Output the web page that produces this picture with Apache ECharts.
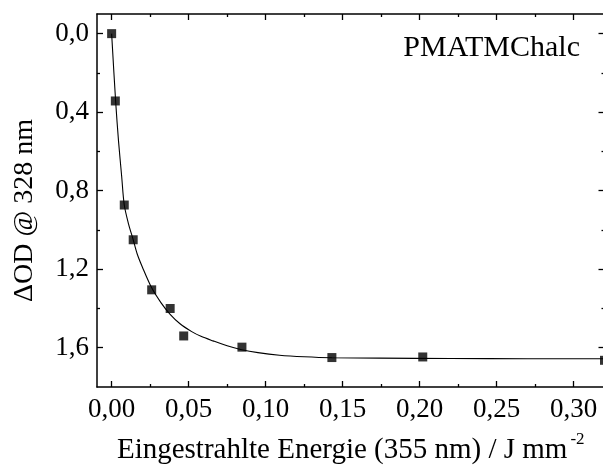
<!DOCTYPE html>
<html>
<head>
<meta charset="utf-8">
<script src="https://cdn.jsdelivr.net/npm/echarts@6/dist/echarts.min.js"></script>
<style>
  html, body { margin: 0; padding: 0; background: #fff; overflow: hidden; }
  #chart { width: 612px; height: 470px; }
</style>
</head>
<body>
<div id="chart"></div>
<script>
// Measured points: irradiated energy (J/mm²) vs. ΔOD at 328 nm
const energy = [0, 0.0024, 0.0082, 0.014, 0.026, 0.038, 0.0468, 0.0846, 0.143, 0.202, 0.32];
const deltaOD = [0, 0.343, 0.873, 1.05, 1.305, 1.40, 1.54, 1.597, 1.65, 1.647, 1.664];

// Fitted curve, sampled along the energy axis
const fitEnergy = [0, 0.0026, 0.0045, 0.0065, 0.0082, 0.011, 0.014, 0.0165, 0.020, 0.026, 0.032,
                   0.038, 0.0444, 0.052, 0.058, 0.0658, 0.075, 0.0844, 0.095, 0.109, 0.125, 0.143,
                   0.174, 0.22, 0.27, 0.32];
const fitOD = [0, 0.345, 0.55, 0.725, 0.873, 0.97, 1.05, 1.12, 1.19, 1.295, 1.37,
               1.43, 1.478, 1.518, 1.542, 1.565, 1.59, 1.61, 1.625, 1.638, 1.646, 1.651,
               1.653, 1.655, 1.656, 1.656];

// Axis ticks
const xMajorTicks = [0, 0.05, 0.10, 0.15, 0.20, 0.25, 0.30];
const xMinorTicks = [0.025, 0.075, 0.125, 0.175, 0.225, 0.275];
const yMajorTicks = [0, 0.4, 0.8, 1.2, 1.6];
const yMinorTicks = [0.2, 0.6, 1.0, 1.4];

const xRange = [-0.0095, 0.32];
const yRange = [-0.1, 1.8];

const FONT = 'Liberation Serif';
const INK = '#000';

function xAxisDef(position, ticks, len, withLabels) {
  return {
    type: 'value', position: position, min: xRange[0], max: xRange[1],
    axisLine: { show: withLabels, onZero: false, lineStyle: { color: INK, width: 1.5 } },
    axisTick: { show: true, inside: true, length: len, customValues: ticks,
                lineStyle: { color: INK, width: 1.3 } },
    axisLabel: withLabels && position === 'bottom' ? {
      show: true, customValues: ticks, margin: 9,
      fontFamily: FONT, fontSize: 27, color: INK,
      formatter: v => v.toFixed(2).replace('.', ',')
    } : { show: false },
    splitLine: { show: false }
  };
}

function yAxisDef(position, ticks, len, withLabels) {
  return {
    type: 'value', position: position, inverse: true, min: yRange[0], max: yRange[1],
    axisLine: { show: withLabels, onZero: false, lineStyle: { color: INK, width: 1.5 } },
    axisTick: { show: true, inside: true, length: len, customValues: ticks,
                lineStyle: { color: INK, width: 1.3 } },
    axisLabel: withLabels && position === 'left' ? {
      show: true, customValues: ticks, margin: 8,
      fontFamily: FONT, fontSize: 27, color: INK,
      formatter: v => v.toFixed(1).replace('.', ',')
    } : { show: false },
    splitLine: { show: false }
  };
}

const xAxes = [
  xAxisDef('bottom', xMajorTicks, 6, true),
  xAxisDef('bottom', xMinorTicks, 3, false),
  xAxisDef('top', xMajorTicks, 6, true),
  xAxisDef('top', xMinorTicks, 3, false)
];
xAxes[0].name = '{t|Eingestrahlte Energie (355 nm) / J mm}{s|-2}';
xAxes[0].nameLocation = 'middle';
xAxes[0].nameGap = 44;
xAxes[0].nameTextStyle = {
  rich: {
    t: { fontFamily: FONT, fontSize: 29, color: INK },
    s: { fontFamily: FONT, fontSize: 17, color: INK, verticalAlign: 'top', padding: [0, 0, 22, 3] }
  }
};

const yAxes = [
  yAxisDef('left', yMajorTicks, 6, true),
  yAxisDef('left', yMinorTicks, 3, false),
  yAxisDef('right', yMajorTicks, 6, true),
  yAxisDef('right', yMinorTicks, 3, false)
];
yAxes[0].name = 'ΔOD @ 328 nm';
yAxes[0].nameLocation = 'middle';
yAxes[0].nameGap = 58;
yAxes[0].nameRotate = 90;
yAxes[0].nameTextStyle = { fontFamily: FONT, fontSize: 28, color: INK, padding: [0, 0, 0, -20] };

const chart = echarts.init(document.getElementById('chart'), null, { renderer: 'canvas' });
chart.setOption({
  animation: false,
  backgroundColor: '#fff',
  grid: { left: 97, top: 14, width: 507.5, height: 376.6 },
  title: {
    text: 'PMATMChalc', right: 27, top: 28,
    textStyle: { fontFamily: FONT, fontSize: 30, fontWeight: 'normal', color: INK }
  },
  xAxis: xAxes,
  yAxis: yAxes,
  series: [
    {
      type: 'line', xAxisIndex: 0, yAxisIndex: 0,
      data: fitEnergy.map((e, i) => [e, fitOD[i]]),
      smooth: 0.3, showSymbol: false, symbol: 'none',
      lineStyle: { color: INK, width: 1.1 }, z: 2
    },
    {
      type: 'scatter', xAxisIndex: 0, yAxisIndex: 0,
      data: energy.map((e, i) => [e, deltaOD[i]]),
      symbol: 'rect', symbolSize: 9,
      itemStyle: { color: INK }, z: 3
    }
  ]
});
</script>
</body>
</html>
